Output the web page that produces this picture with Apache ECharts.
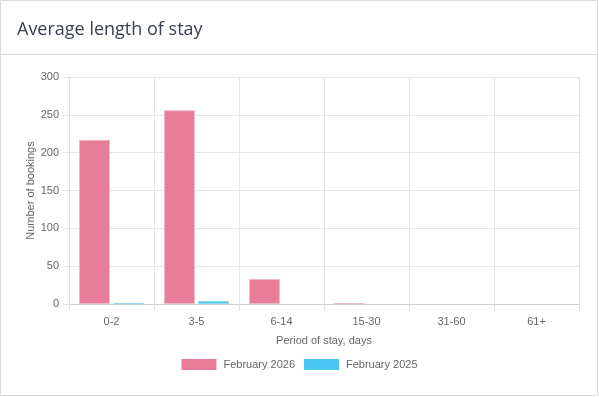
<!DOCTYPE html>
<html>
<head>
<meta charset="utf-8">
<script src="https://cdn.jsdelivr.net/npm/echarts@6/dist/echarts.min.js"></script>
<style>
  html, body { margin: 0; padding: 0; background: #fff; }
  #chart { width: 599px; height: 397px; }
</style>
</head>
<body>
<div id="chart"></div>
<script>
// period buckets on the x axis
const periods = ['0-2', '3-5', '6-14', '15-30', '31-60', '61+']
// bookings per bucket
const feb2026 = [217, 256, 33, 1, 0, 0]
const feb2025 = [1, 4, 0, 0, 0, 0]
const seriesNames = ['February 2026', 'February 2025']

const chart = echarts.init(document.getElementById('chart'))

// zero buckets draw nothing (no border sliver)
const toBars = arr => arr.map(v => (v === 0 ? '-' : v))

const labelFont = {
  fontFamily: 'Liberation Sans',
  fontSize: 11,
  color: '#666'
}

const option = {
  animation: false,
  title: {
    text: 'Average length of stay',
    left: 12,
    top: 16,
    textStyle: {
      fontFamily: 'Open Sans',
      fontSize: 18,
      fontWeight: 'normal',
      color: '#3a4250'
    }
  },
  graphic: [
    {
      type: 'rect',
      shape: { x: 0.5, y: 0.5, width: 597, height: 395 },
      style: { fill: 'none', stroke: '#dcdcdc', lineWidth: 1 },
      silent: true
    },
    {
      type: 'line',
      shape: { x1: 0, y1: 54.5, x2: 598, y2: 54.5 },
      style: { stroke: '#dcdcdc', lineWidth: 1 },
      silent: true
    }
  ],
  legend: {
    data: seriesNames,
    top: 354,
    left: 'center',
    itemWidth: 35,
    itemHeight: 11,
    itemGap: 9,
    icon: 'rect',
    itemStyle: { borderWidth: 0 },
    textStyle: Object.assign({ padding: [0, 0, 0, 2] }, labelFont)
  },
  grid: {
    left: 69,
    right: 20,
    top: 77,
    bottom: 93
  },
  xAxis: {
    type: 'category',
    data: periods,
    name: 'Period of stay, days',
    nameLocation: 'middle',
    nameGap: 31,
    nameMoveOverlap: false,
    nameTextStyle: labelFont,
    axisLine: { lineStyle: { color: '#cfcfcf' } },
    axisTick: { show: true, length: 7, lineStyle: { color: '#e3e3e3' } },
    splitLine: { show: true, lineStyle: { color: '#e6e6e6' } },
    axisLabel: Object.assign({ margin: 12 }, labelFont)
  },
  yAxis: {
    type: 'value',
    min: 0,
    max: 300,
    interval: 50,
    name: 'Number of bookings',
    nameLocation: 'middle',
    nameGap: 33,
    nameMoveOverlap: false,
    nameTextStyle: labelFont,
    axisLine: { show: true, lineStyle: { color: '#e3e3e3' } },
    axisTick: { show: true, length: 6, lineStyle: { color: '#e3e3e3' } },
    splitLine: { lineStyle: { color: '#e6e6e6' } },
    axisLabel: Object.assign({ margin: 10 }, labelFont)
  },
  series: [
    {
      name: seriesNames[0],
      type: 'bar',
      data: toBars(feb2026),
      barWidth: 31,
      barGap: '10%',
      itemStyle: {
        color: '#e77c9b',
        borderColor: '#f2b8c9',
        borderWidth: 1
      }
    },
    {
      name: seriesNames[1],
      type: 'bar',
      data: toBars(feb2025),
      barWidth: 31,
      barGap: '10%',
      itemStyle: {
        color: '#4cc6f2',
        borderColor: '#8fdcf7',
        borderWidth: 1
      }
    }
  ]
}

chart.setOption(option)
</script>
</body>
</html>
